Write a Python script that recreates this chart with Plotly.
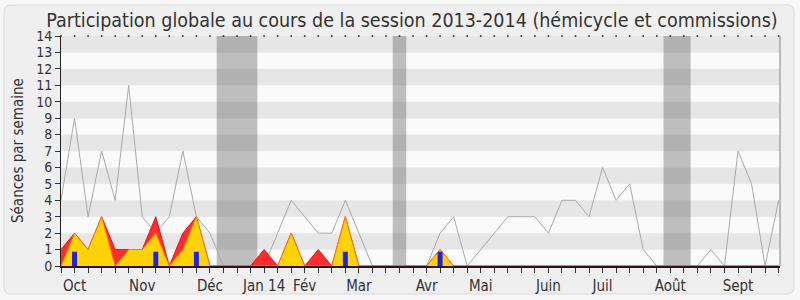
import plotly.graph_objects as go

# ---- data (one value per week, week 0 = start of session) ----
weeks = list(range(54))
median_deputes = [4, 9, 3, 7, 4, 11, 3, 2, 3, 7, 3, 2, 0, 0, 0, 0, 2, 4, 3, 2,
                  2, 4, 2, 0, 0, 0, 0, 0, 2, 3, 0, 1, 2, 3, 3, 3, 2, 4, 4, 3,
                  6, 4, 5, 1, 0, 0, 0, 0, 1, 0, 7, 5, 0, 4]
presence_totale = [1, 2, 1, 3, 1, 1, 1, 3, 0, 2, 3, 0, 0, 0, 0, 1, 0, 2, 0, 1,
                   0, 3, 0, 0, 0, 0, 0, 0, 1, 0, 0, 0, 0, 0, 0, 0, 0, 0, 0, 0,
                   0, 0, 0, 0, 0, 0, 0, 0, 0, 0, 0, 0, 0, 0]
participation = [0, 2, 1, 3, 0, 1, 1, 2, 0, 1, 3, 0, 0, 0, 0, 0, 0, 2, 0, 0,
                 0, 3, 0, 0, 0, 0, 0, 0, 1, 0, 0, 0, 0, 0, 0, 0, 0, 0, 0, 0,
                 0, 0, 0, 0, 0, 0, 0, 0, 0, 0, 0, 0, 0, 0]
question_weeks = [1, 7, 10, 21, 28]
question_values = [0.87, 0.87, 0.87, 0.87, 0.87]
vacances = [(12, 14), (25, 25), (45, 46)]   # first and last week of each holiday
month_weeks = [1, 6, 11, 15, 18, 22, 27, 31, 36, 40, 45, 50]
month_labels = ["Oct", "Nov", "Déc", "Jan 14", "Fév", "Mar", "Avr", "Mai",
                "Juin", "Juil", "Août", "Sept"]
y_max = 14

FONT = "DejaVu Sans Condensed"
TXT = "#333333"
BAR_W = 0.37

fig = go.Figure()

# median line (under the areas)
fig.add_trace(go.Scatter(x=weeks, y=median_deputes, mode="lines",
                         line=dict(color="#aaaaaa", width=1), hoverinfo="skip"))
# total presence (red)
fig.add_trace(go.Scatter(x=weeks, y=presence_totale, mode="lines", fill="tozeroy",
                         fillcolor="rgb(255,45,45)", line=dict(color="#f01010", width=1),
                         hoverinfo="skip"))
# participation (yellow)
fig.add_trace(go.Scatter(x=weeks, y=participation, mode="lines", fill="tozeroy",
                         fillcolor="#ffd306", line=dict(color="#ff7a00", width=1),
                         hoverinfo="skip"))
# questions (blue bars, drawn as filled scatter so they sit above the areas)
bx, by = [], []
for w, v in zip(question_weeks, question_values):
    bx += [w - BAR_W / 2, w + BAR_W / 2, w + BAR_W / 2, w - BAR_W / 2, w - BAR_W / 2, None]
    by += [0, 0, v, v, 0, None]
fig.add_trace(go.Scatter(x=bx, y=by, mode="lines", fill="toself", fillcolor="#2323dc",
                         line=dict(width=0, color="#2323dc"), hoverinfo="skip"))
# dotted top line at each week
fig.add_trace(go.Scatter(x=weeks, y=[y_max] * len(weeks), mode="markers",
                         marker=dict(symbol="square", size=1.6, color="#222222", line=dict(width=0)),
                         cliponaxis=False, hoverinfo="skip"))

shapes = []
# outer rounded frame (paper coords), plot area: x 61..780 px, y 36..266 px
L, R, T, B = 61, 780, 36, 266
W, H = R - L, B - T
def px(x):
    return (x - L) / W
def py(y):
    return (B - y) / H
fx0, fx1, fy0, fy1 = px(4), px(794), py(5), py(294)
rx, ry = 7 / W, 7 / H
path = (f"M {fx0+rx},{fy0} L {fx1-rx},{fy0} Q {fx1},{fy0} {fx1},{fy0-ry} "
        f"L {fx1},{fy1+ry} Q {fx1},{fy1} {fx1-rx},{fy1} L {fx0+rx},{fy1} "
        f"Q {fx0},{fy1} {fx0},{fy1+ry} L {fx0},{fy0-ry} Q {fx0},{fy0} {fx0+rx},{fy0} Z")
shapes.append(dict(type="path", path=path, xref="paper", yref="paper",
                   fillcolor="#efefef", line=dict(color="#d9d9d9", width=1), layer="below"))
# horizontal stripes
for v in range(0, y_max):
    shapes.append(dict(type="rect", xref="paper", yref="y", x0=0, x1=1, y0=v, y1=v + 1,
                       fillcolor="#e6e6e6" if v % 2 else "#fafafa",
                       line=dict(width=0), layer="below"))
# holiday bands
for a, b in vacances:
    shapes.append(dict(type="rect", xref="x", yref="paper", x0=a - 0.5, x1=b + 0.5, y0=0, y1=1,
                       fillcolor="rgba(76,76,76,0.35)", line=dict(width=0), layer="below"))
# right border
shapes.append(dict(type="line", xref="paper", yref="paper", x0=1, x1=1, y0=0, y1=1,
                   line=dict(color="#a8a8a8", width=1.5)))

ticktext = []
for w in weeks:
    ticktext.append(month_labels[month_weeks.index(w)] if w in month_weeks else "")

fig.update_layout(
    width=800, height=300,
    margin=dict(l=L, r=800 - R, t=T, b=300 - B, pad=0, autoexpand=False),
    paper_bgcolor="#f7f7f7", plot_bgcolor="#fafafa",
    showlegend=False,
    shapes=shapes,
    title=dict(text="Participation globale au cours de la session 2013-2014 (hémicycle et commissions)",
               font=dict(family=FONT, size=19.5, color=TXT),
               x=412 / 800, xref="container", xanchor="center",
               y=1 - 20 / 300, yref="container", yanchor="middle"),
    xaxis=dict(range=[0, W / 13.54], tickvals=weeks, ticktext=ticktext,
               ticks="outside", ticklen=5, tickcolor="#333333", tickwidth=1,
               showline=True, linecolor="#2a1414", linewidth=2, layer="above traces",
               showgrid=False, zeroline=False, fixedrange=True, automargin=False,
               tickfont=dict(family=FONT, size=15, color=TXT)),
    yaxis=dict(range=[0, y_max], tickvals=list(range(0, y_max + 1)),
               ticks="outside", ticklen=5, tickcolor="#333333", tickwidth=1,
               showline=True, linecolor="#222222", linewidth=1,
               showgrid=False, zeroline=False, fixedrange=True, automargin=False,
               tickfont=dict(family=FONT, size=14, color=TXT)),
    annotations=[dict(text="Séances par semaine", xref="paper", yref="paper",
                      x=px(18), y=py(151), textangle=-90, showarrow=False,
                      xanchor="center", yanchor="middle",
                      font=dict(family=FONT, size=15, color=TXT))],
)

fig.write_html("out.html")
